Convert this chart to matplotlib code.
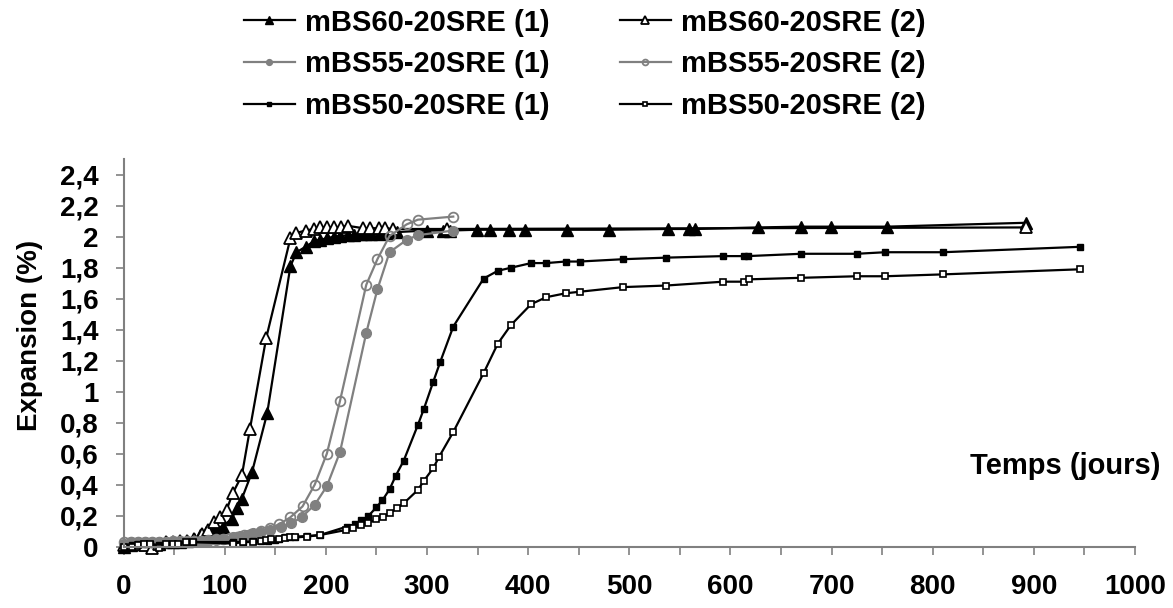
import numpy as np
import matplotlib
matplotlib.use("Agg")
import matplotlib.pyplot as plt
from matplotlib.ticker import MultipleLocator, FuncFormatter

plt.rcParams['font.family'] = ['Liberation Sans', 'DejaVu Sans']
plt.rcParams['font.weight'] = 'bold'

# expansion measurements (days, %)
days_60_1 = [0, 7, 14, 21, 28, 35, 42, 49, 56, 63, 70, 76, 82, 90, 98, 107, 112, 117, 127, 142,
             165, 171, 180, 188, 194, 201, 208, 214, 222, 228, 235, 240, 245, 253, 260, 270, 300,
             316, 323, 349, 362, 381, 397, 438, 480, 538, 559, 565, 627, 670, 699, 755, 892]
exp_60_1 = [0.0, 0.01, 0.02, 0.02, 0.01, 0.02, 0.03, 0.03, 0.03, 0.04, 0.05, 0.075, 0.095, 0.12,
            0.13, 0.18, 0.25, 0.31, 0.48, 0.86, 1.81, 1.90, 1.935, 1.97, 1.98, 1.99, 2.0, 2.005,
            2.01, 2.01, 2.015, 2.02, 2.02, 2.02, 2.025, 2.03, 2.04, 2.04, 2.04, 2.045, 2.045,
            2.045, 2.045, 2.045, 2.045, 2.05, 2.05, 2.05, 2.06, 2.065, 2.065, 2.065, 2.09]

days_60_2 = [0, 7, 14, 21, 28, 35, 42, 49, 56, 63, 70, 78, 84, 89, 95, 102, 108, 117, 125, 141,
             165, 171, 180, 188, 194, 201, 208, 215, 222, 237, 244, 253, 259, 266, 320, 892]
exp_60_2 = [0.01, 0.02, 0.02, 0.01, -0.01, 0.02, 0.03, 0.03, 0.04, 0.04, 0.05, 0.08, 0.11, 0.16,
            0.19, 0.24, 0.345, 0.46, 0.76, 1.345, 1.99, 2.025, 2.04, 2.05, 2.06, 2.06, 2.06,
            2.065, 2.07, 2.055, 2.055, 2.055, 2.055, 2.05, 2.05, 2.06]

days_55_1 = [0, 7, 14, 21, 28, 35, 42, 49, 56, 63, 70, 77, 84, 91, 98, 108, 115, 122, 128, 135,
             145, 156, 166, 176, 189, 201, 214, 240, 251, 263, 280, 291, 326]
exp_55_1 = [0.02, 0.03, 0.03, 0.03, 0.03, 0.03, 0.03, 0.03, 0.03, 0.03, 0.035, 0.04, 0.04, 0.045,
            0.05, 0.065, 0.07, 0.075, 0.086, 0.095, 0.107, 0.13, 0.15, 0.19, 0.27, 0.39, 0.61,
            1.38, 1.66, 1.90, 1.98, 2.01, 2.04]

days_55_2 = [0, 7, 14, 21, 28, 35, 42, 49, 56, 63, 70, 77, 84, 91, 98, 105, 112, 119, 126, 136,
             145, 154, 165, 177, 189, 201, 214, 240, 251, 263, 280, 291, 326]
exp_55_2 = [0.03, 0.03, 0.03, 0.03, 0.03, 0.03, 0.03, 0.035, 0.035, 0.04, 0.04, 0.04, 0.045, 0.05,
            0.05, 0.055, 0.065, 0.075, 0.085, 0.1, 0.12, 0.145, 0.19, 0.26, 0.40, 0.60, 0.94,
            1.69, 1.855, 2.005, 2.08, 2.11, 2.13]

days_50_1 = [0, 8, 14, 20, 26, 35, 42, 49, 54, 62, 69, 108, 118, 128, 136, 143, 150, 154, 160,
             165, 170, 181, 194, 221, 229, 235, 242, 250, 256, 263, 269, 277, 291, 297, 306, 313,
             326, 356, 370, 383, 403, 418, 437, 451, 494, 536, 593, 613, 617, 670, 725, 753, 810, 946]
exp_50_1 = [0.0, 0.01, 0.02, 0.02, 0.02, 0.01, 0.02, 0.02, 0.02, 0.03, 0.03, 0.03, 0.03, 0.035,
            0.035, 0.04, 0.045, 0.048, 0.06, 0.065, 0.065, 0.069, 0.075, 0.13, 0.144, 0.17, 0.198,
            0.254, 0.30, 0.37, 0.456, 0.555, 0.785, 0.89, 1.06, 1.19, 1.42, 1.73, 1.78, 1.80,
            1.83, 1.83, 1.84, 1.84, 1.855, 1.865, 1.875, 1.875, 1.875, 1.89, 1.89, 1.90, 1.90, 1.935]

days_50_2 = [0, 8, 14, 20, 26, 35, 42, 49, 54, 62, 69, 108, 118, 128, 136, 141, 146, 154, 160,
             165, 170, 181, 194, 220, 227, 235, 242, 250, 257, 263, 270, 277, 291, 297, 306, 312,
             326, 356, 370, 383, 403, 418, 437, 451, 494, 536, 593, 613, 618, 670, 725, 753, 810, 946]
exp_50_2 = [0.0, 0.0, 0.01, 0.02, 0.02, -0.01, 0.02, 0.02, 0.02, 0.03, 0.03, 0.02, 0.03, 0.03,
            0.035, 0.043, 0.05, 0.05, 0.055, 0.06, 0.06, 0.065, 0.075, 0.108, 0.119, 0.14, 0.155,
            0.177, 0.194, 0.215, 0.247, 0.28, 0.366, 0.426, 0.505, 0.58, 0.74, 1.12, 1.31, 1.43,
            1.565, 1.61, 1.635, 1.645, 1.675, 1.685, 1.71, 1.71, 1.725, 1.735, 1.745, 1.745,
            1.757, 1.79]

labels = ["mBS60-20SRE (1)", "mBS60-20SRE (2)", "mBS55-20SRE (1)",
          "mBS55-20SRE (2)", "mBS50-20SRE (1)", "mBS50-20SRE (2)"]

GRAY = '#808080'

fig = plt.figure(figsize=(11.73, 6.08), dpi=100)
ax = fig.add_axes([0.1053, 0.1008, 0.8623, 0.6373])

kw = dict(lw=1.6, clip_on=False)
ax.plot(days_60_1, exp_60_1, color='black', marker='^', ms=9, mfc='black', mec='black', label=labels[0], **kw)
ax.plot(days_60_2, exp_60_2, color='black', marker='^', ms=9, mfc='white', mec='black', mew=1.3, label=labels[1], **kw)
ax.plot(days_55_1, exp_55_1, color=GRAY, marker='o', ms=7, mfc=GRAY, mec=GRAY, label=labels[2], **kw)
ax.plot(days_55_2, exp_55_2, color=GRAY, marker='o', ms=7, mfc='none', mec=GRAY, mew=1.3, label=labels[3], **kw)
ax.plot(days_50_1, exp_50_1, color='black', marker='s', ms=5, mfc='black', mec='black', label=labels[4], **kw)
ax.plot(days_50_2, exp_50_2, color='black', marker='s', ms=5, mfc='white', mec='black', mew=1.2, label=labels[5], **kw)

ax.set_xlim(0, 1000)
ax.set_ylim(0, 2.5)
ax.xaxis.set_major_locator(MultipleLocator(100))
ax.xaxis.set_minor_locator(MultipleLocator(50))
ax.set_yticks(np.arange(0, 2.41, 0.2))
ax.yaxis.set_major_formatter(FuncFormatter(lambda v, p: f"{v:.1f}".rstrip('0').rstrip('.').replace('.', ',')))

for s in ['top', 'right']:
    ax.spines[s].set_visible(False)
for s in ['left', 'bottom']:
    ax.spines[s].set_color(GRAY)
    ax.spines[s].set_linewidth(1.5)

ax.tick_params(axis='both', which='both', direction='out', color=GRAY, width=1.2, length=6)
ax.tick_params(axis='x', which='major', labelsize=20, pad=14)
ax.tick_params(axis='y', which='major', labelsize=20, pad=12)
for t in ax.get_xticklabels() + ax.get_yticklabels():
    t.set_fontweight('bold')

fig.text(30 / 1173, 1 - 335 / 608, "Expansion (%)", rotation=90, ha='center', va='center',
         fontsize=20, fontweight='bold')
fig.text(1160 / 1173, 1 - 466 / 608, "Temps (jours)", ha='right', va='center',
         fontsize=21, fontweight='bold')

handles, labs = ax.get_legend_handles_labels()
order = [0, 2, 4, 1, 3, 5]
fig.legend([handles[i] for i in order], [labs[i] for i in order], ncol=2,
           loc='upper center', bbox_to_anchor=(584.5 / 1173, 1.01), frameon=False,
           fontsize=21, markerscale=0.6, handlelength=1.75, handletextpad=0.35,
           columnspacing=2.4, labelspacing=0.47, borderpad=0.0)

fig.savefig("out.png", dpi=100)
